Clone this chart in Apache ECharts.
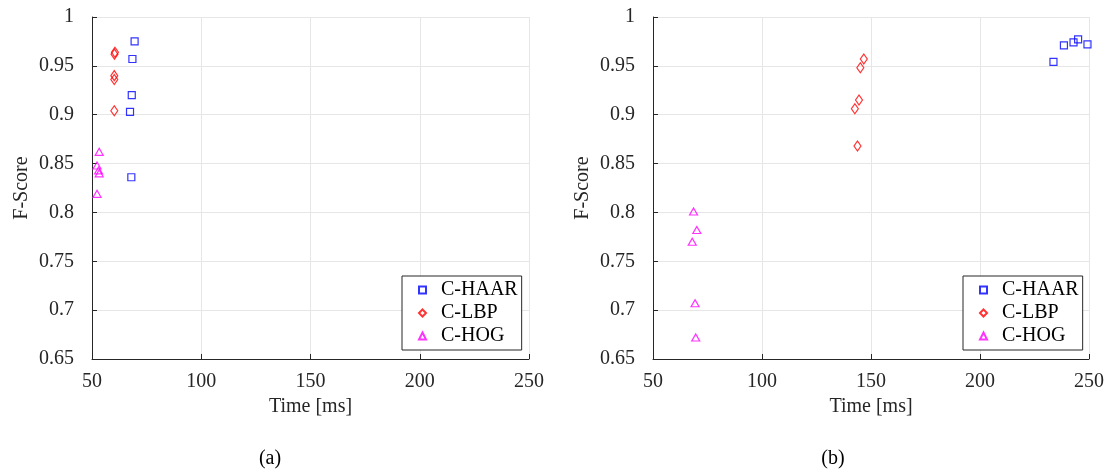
<!DOCTYPE html>
<html>
<head>
<meta charset="utf-8">
<script src="https://cdn.jsdelivr.net/npm/echarts@6/dist/echarts.min.js"></script>
<style>html,body{margin:0;padding:0;background:#fff}#c{width:1107px;height:471px}</style>
</head>
<body>
<div id="c"></div>
<script>
// (a) data: [time ms, F-score]
const haarA = [[69.5,0.975],[68.5,0.957],[68.2,0.920],[67.4,0.903],[68.0,0.836]];
const lbpA  = [[60.5,0.964],[60.3,0.962],[60.2,0.940],[60.2,0.936],[60.2,0.904]];
const hogA  = [[53.3,0.862],[52.3,0.848],[53.0,0.843],[53.3,0.840],[52.3,0.819]];
// (b) data
const haarB = [[233.7,0.954],[238.5,0.971],[242.9,0.974],[245.0,0.977],[249.3,0.972]];
const lbpB  = [[146.7,0.957],[145.1,0.948],[144.5,0.915],[142.6,0.906],[143.8,0.868]];
const hogB  = [[68.6,0.801],[70.1,0.782],[68.0,0.770],[69.3,0.707],[69.6,0.672]];
const seriesNames = ['C-HAAR','C-LBP','C-HOG'];
const xTicks = [50,100,150,200,250];
const yTicks = [0.65,0.7,0.75,0.8,0.85,0.9,0.95,1];
const xTitle = 'Time [ms]';
const yTitle = 'F-Score';
const captions = ['(a)','(b)'];

const FONT = 'Liberation Serif';
const TXT = '#262626';
const styles = [
  {symbol:'rect', symbolSize:7, color:'#0000ff'},
  {symbol:'diamond', symbolSize:[7,10], color:'#ff0000'},
  {symbol:'triangle', symbolSize:[8,7], color:'#ff00ff'}
];
const grids = [
  {left:92, top:17, width:437, height:342},
  {left:653, top:17, width:438, height:342}
];
function xAxis(i){
  return {gridIndex:i, type:'value', min:xTicks[0], max:xTicks[xTicks.length-1], interval:50,
    name:xTitle, nameLocation:'middle', nameGap:38,
    nameTextStyle:{fontFamily:FONT, fontSize:20, color:TXT},
    axisLine:{show:true, onZero:false, lineStyle:{color:'#262626', width:1}},
    axisTick:{show:true, inside:true, length:5, lineStyle:{color:'#262626'}},
    axisLabel:{fontFamily:FONT, fontSize:20, color:TXT, margin:13},
    splitLine:{show:true, lineStyle:{color:'#e6e6e6', width:1}}};
}
function yAxis(i){
  return {gridIndex:i, type:'value', min:yTicks[0], max:yTicks[yTicks.length-1], interval:0.05,
    name:yTitle, nameLocation:'middle', nameGap:60, nameRotate:90,
    nameTextStyle:{fontFamily:FONT, fontSize:20, color:TXT},
    axisLine:{show:true, onZero:false, lineStyle:{color:'#262626', width:1}},
    axisTick:{show:true, inside:true, length:5, lineStyle:{color:'#262626'}},
    axisLabel:{fontFamily:FONT, fontSize:20, color:TXT, margin:18,
      formatter:v=>String(Math.round(v*100)/100)},
    splitLine:{show:true, lineStyle:{color:'#e6e6e6', width:1}}};
}
const dataSets = [[haarA,lbpA,hogA],[haarB,lbpB,hogB]];
const series = [];
dataSets.forEach((sets,gi)=>{
  sets.forEach((d,si)=>{
    const s = styles[si];
    series.push({type:'scatter', name:seriesNames[si], xAxisIndex:gi, yAxisIndex:gi,
      data:d, symbol:s.symbol, symbolSize:s.symbolSize,
      itemStyle:{color:'rgba(255,255,255,0)', borderColor:s.color, borderWidth:1.2},
      emphasis:{disabled:true}, animation:false});
  });
});
function legend(left){
  return {left:left, top:276, orient:'vertical', data:seriesNames,
    backgroundColor:'#fff', borderColor:'#262626', borderWidth:1,
    padding:[3,4,3,16], itemGap:1, itemWidth:7, itemHeight:7,
    textStyle:{fontFamily:FONT, fontSize:20, color:'#000', padding:[0,0,0,10], lineHeight:22},
    selectedMode:false};
}
const chart = echarts.init(document.getElementById('c'), null, {renderer:'canvas'});
chart.setOption({
  backgroundColor:'#fff',
  animation:false,
  grid:grids,
  xAxis:[xAxis(0), xAxis(1)],
  yAxis:[yAxis(0), yAxis(1)],
  title:[
    {text:captions[0], left:270, top:449, textAlign:'center', textStyle:{fontFamily:FONT, fontSize:20, fontWeight:'normal', color:'#000'}, padding:0},
    {text:captions[1], left:833, top:449, textAlign:'center', textStyle:{fontFamily:FONT, fontSize:20, fontWeight:'normal', color:'#000'}, padding:0}
  ],
  legend:[legend(402), legend(963)],
  series:series
});
</script>
</body>
</html>
